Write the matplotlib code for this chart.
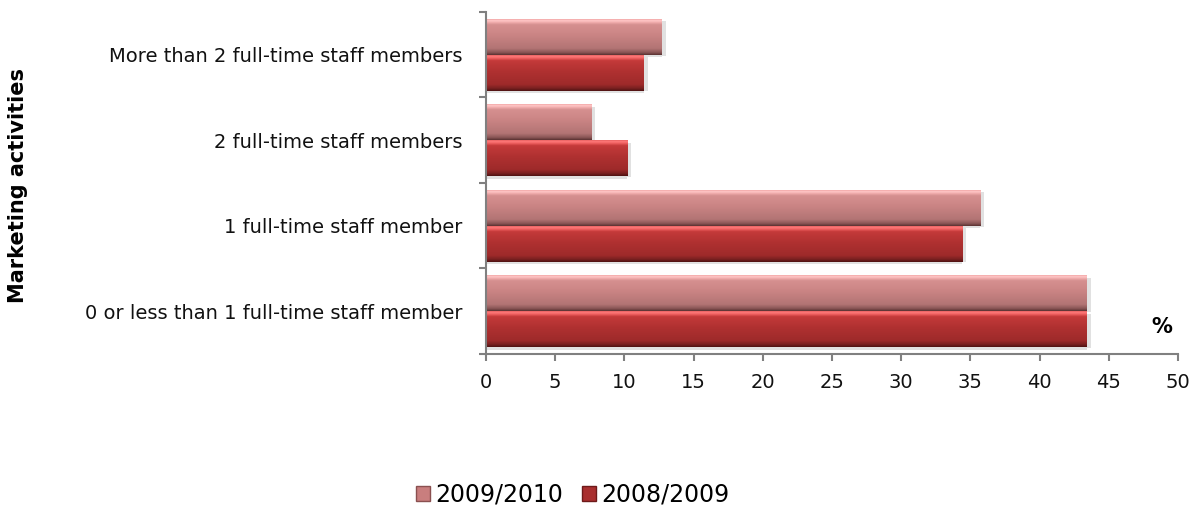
import matplotlib.pyplot as plt
import numpy as np
from matplotlib.colors import LinearSegmentedColormap
from matplotlib.patches import Patch

categories = ['0 or less than 1 full-time staff member', '1 full-time staff member',
              '2 full-time staff members', 'More than 2 full-time staff members']
season_0910 = [43.4, 35.7, 7.6, 12.7]
season_0809 = [43.4, 34.4, 10.2, 11.4]
series_names = ['2009/2010', '2008/2009']
x_ticks = [0, 5, 10, 15, 20, 25, 30, 35, 40, 45, 50]

# vertical shading for each bar (bottom -> top): dark rim, body, bright rim
pink = LinearSegmentedColormap.from_list('pink', [
    (0.0, '#5a3232'), (0.07, '#8a5656'), (0.18, '#b27474'), (0.55, '#ca8484'),
    (0.85, '#d69090'), (0.91, '#f0acac'), (0.96, '#ffc8c8'), (1.0, '#f2a8a8')])
red = LinearSegmentedColormap.from_list('red', [
    (0.0, '#4e1212'), (0.07, '#782020'), (0.18, '#9e2a2a'), (0.55, '#b03131'),
    (0.85, '#c43a3a'), (0.91, '#ec5c5c'), (0.96, '#ff7a7a'), (1.0, '#e86262')])
grad = np.linspace(0, 1, 128).reshape(-1, 1)

fig = plt.figure(figsize=(11.98, 5.09), dpi=100)
ax = fig.add_axes([0.4057, 0.3045, 0.5776, 0.672])

h = 0.42
y = np.arange(len(categories))
for vals, cmap, off in [(season_0910, pink, h / 2), (season_0809, red, -h / 2)]:
    for yi, v in zip(y, vals):
        y0, y1 = yi + off - h / 2, yi + off + h / 2
        ax.imshow(grad, cmap=cmap, aspect='auto', extent=(0, v, y0, y1), origin='lower',
                  interpolation='bilinear', zorder=2)
        # soft shadow on the right end and below
        ax.barh(yi + off - 0.02, 0.3, left=v, height=h * 0.95, color='#aaaaaa', alpha=0.35, zorder=1)
        ax.barh(y0 - 0.015, v, height=0.03, color='#aaaaaa', alpha=0.35, zorder=1)

ax.set_xlim(0, 50)
ax.set_ylim(-0.5, len(categories) - 0.5)
ax.set_xticks(x_ticks)
ax.set_yticks(y)
ax.set_yticklabels(categories)
ax.set_yticks(np.arange(-0.5, len(categories)), minor=True)
ax.tick_params(axis='y', which='major', length=0, pad=17, labelsize=14, labelcolor='#111111')
ax.tick_params(axis='y', which='minor', length=5, color='#808080', width=1.5)
ax.tick_params(axis='x', length=5, color='#808080', width=1.5, pad=9, labelsize=14,
               labelcolor='#111111')

for s in ['top', 'right']:
    ax.spines[s].set_visible(False)
for s in ['left', 'bottom']:
    ax.spines[s].set_color('#808080')
    ax.spines[s].set_linewidth(1.5)

fig.text(0.015, 0.6365, 'Marketing activities', rotation=90, fontsize=15, fontweight='heavy',
         ha='center', va='center')
fig.text(0.97, 0.357, '%', fontsize=15, fontweight='bold', ha='center', va='center')

handles = [Patch(facecolor='#c97e7e', edgecolor='#8a5050'),
           Patch(facecolor='#a92f2f', edgecolor='#6e1a1a')]
fig.legend(handles, series_names, loc='center', bbox_to_anchor=(0.478, 0.028), ncol=2,
           frameon=False, fontsize=17, handlelength=0.6, handleheight=0.6,
           handletextpad=0.2, columnspacing=0.8)

fig.savefig('out.png', dpi=100)
